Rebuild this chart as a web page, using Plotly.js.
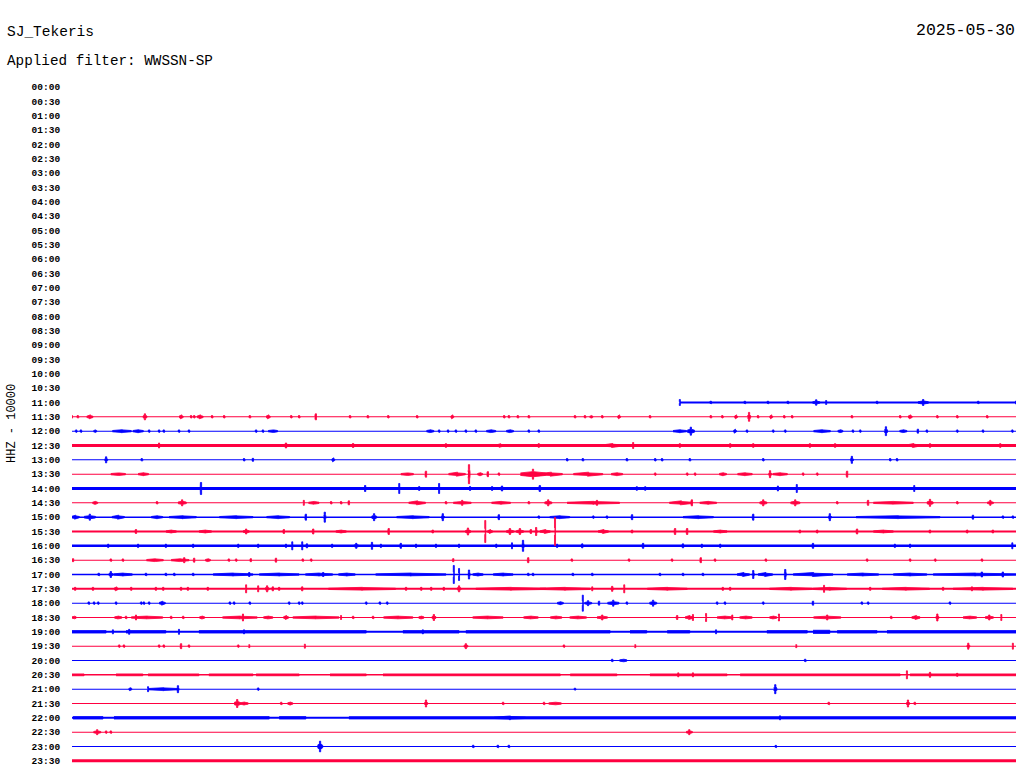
<!DOCTYPE html>
<html><head><meta charset="utf-8">
<script src="https://cdn.plot.ly/plotly-3.0.1.min.js"></script>
<style>html,body{margin:0;padding:0;background:#fff;} #chart{width:1024px;height:780px;}</style>
</head><body><div id="chart"></div>
<script>
const rowLabels = ['00:00','00:30','01:00','01:30','02:00','02:30','03:00','03:30','04:00','04:30','05:00','05:30',
  '06:00','06:30','07:00','07:30','08:00','08:30','09:00','09:30','10:00','10:30','11:00','11:30',
  '12:00','12:30','13:00','13:30','14:00','14:30','15:00','15:30','16:00','16:30','17:00','17:30',
  '18:00','18:30','19:00','19:30','20:00','20:30','21:00','21:30','22:00','22:30','23:00','23:30'];
const stationName = 'SJ_Tekeris';
const dayLabel = '2025-05-30';
const filterLabel = 'Applied filter: WWSSN-SP';
const channelLabel = 'HHZ - 10000';
const countsPerRow = 10000;
const secondsPerRow = 1800;

// rows that hold data
const dataRows = ['11:00','11:30','12:00','12:30','13:00','13:30','14:00','14:30','15:00','15:30','16:00','16:30',
  '17:00','17:30','18:00','18:30','19:00','19:30','20:00','20:30','21:00','21:30','22:00','22:30','23:00','23:30'];
const rowStartSec = [1159,0,0,0,0,0,0,0,0,0,0,0,0,0,0,0,0,0,0,0,0,0,0,0,0,0];
const rowEndSec = [1800,1800,1800,1800,1800,1800,1800,1800,1800,1800,1800,1800,1800,1800,1800,1800,1800,1800,1800,1800,1800,1800,1800,1800,1800,1800];
// background noise half-amplitude (counts)
const rowNoise = [700,350,350,1000,350,350,1000,350,500,700,875,350,450,700,350,350,700,350,350,500,350,350,700,350,350,1050];

// events: [second in row, half-amplitude counts, half-duration seconds]
const ev1100 = [[1159,2100,1],[1218,900,2],[1283,900,2],[1327,900,2],[1365,900,2],[1419,1900,7],[1438,1400,1],[1535,900,2],[1623,2100,10],[1728,900,2],[1800,1000,1]];
const ev1130 = [[0,900,1],[11,900,2],[34,1400,6],[139,2100,4],[208,1400,4],[227,900,2],[233,900,2],[244,1400,6],[267,900,2],[290,900,2],[339,900,2],[374,1400,4],[418,900,2],[433,900,2],[465,2100,2],[530,900,2],[564,900,2],[603,900,2],[658,900,2],[725,1400,3],[824,900,2],[833,900,2],[850,900,2],[871,900,2],[959,900,2],[978,900,2],[990,900,3],[1011,900,2],[1043,1400,3],[1102,900,2],[1218,900,2],[1240,900,2],[1266,1400,3],[1291,3100,3],[1308,900,2],[1333,1400,3],[1358,900,2],[1373,900,2],[1487,900,2],[1579,900,2],[1598,1400,4],[1650,900,2],[1688,900,2],[1745,900,2]];
const ev1200 = [[8,900,2],[17,900,2],[44,900,3],[95,1050,18],[126,1050,10],[147,900,2],[166,900,2],[175,900,2],[204,900,2],[223,900,2],[351,900,2],[364,900,2],[383,900,9],[683,1000,7],[700,900,2],[717,900,2],[732,900,2],[751,900,2],[770,900,2],[799,1000,9],[835,1000,7],[871,900,2],[890,900,2],[1159,1050,13],[1180,2800,7],[1264,1400,3],[1287,900,2],[1337,900,2],[1360,900,2],[1430,1050,16],[1465,1000,5],[1489,900,2],[1503,900,2],[1552,3100,3],[1585,1000,7],[1613,1400,2],[1630,900,2],[1688,900,2],[1737,900,2],[1793,900,2]];
const ev1230 = [[166,1750,1],[408,1750,6],[536,1400,2],[713,1300,2],[816,1300,6],[890,1300,2],[1030,1400,18],[1070,2100,1],[1159,1300,2],[1255,1300,2],[1299,1300,2],[1407,1300,2],[1455,1300,2],[1604,1400,12],[1636,1300,2],[1770,1300,2]];
const ev1300 = [[65,2100,3],[133,900,2],[328,900,2],[345,1050,2],[498,1400,3],[944,900,2],[974,900,2],[1058,900,2],[1112,900,2],[1125,900,2],[1178,900,2],[1318,900,2],[1487,2450,3],[1560,900,2],[1573,900,2]];
const ev1330 = [[88,900,14],[136,1050,10],[639,900,12],[675,2100,2],[734,1400,16],[757,6650,2],[778,1050,5],[793,1750,2],[814,900,2],[879,3500,24],[913,1400,22],[984,1400,28],[1039,1050,11],[1112,900,2],[1173,900,2],[1188,900,2],[1241,1050,7],[1283,1050,14],[1331,2450,3],[1350,1050,14],[1394,900,2],[1421,900,2],[1478,2100,2]];
const ev1400 = [[246,4200,1.5],[559,2100,3],[624,3500,1],[662,1400,1],[700,3500,1],[759,1400,1],[801,1400,1],[820,1750,2],[892,2100,5],[1077,1300,1],[1093,1300,1],[1346,1750,1],[1382,2800,1],[1606,2100,1]];
const ev1430 = [[44,1050,5],[162,900,2],[210,2100,8],[442,1750,1],[461,1000,10],[494,900,2],[513,900,2],[528,1400,2],[658,1400,16],[713,900,2],[744,1750,17],[818,1050,18],[871,900,2],[908,2100,7],[994,1050,50],[1001,1750,2],[1161,1400,22],[1182,2100,2],[1213,1050,16],[1318,2100,7],[1379,2100,9],[1459,900,2],[1518,1750,2],[1566,1000,38],[1636,2450,6],[1688,900,2],[1751,1750,6]];
const ev1500 = [[6,1400,8],[34,2100,11],[88,1400,12],[162,1050,11],[211,1050,26],[313,1050,32],[393,1050,22],[446,2100,2],[482,3500,2],[576,2450,5],[650,1050,31],[707,2450,3],[814,1750,2],[890,900,2],[930,1050,19],[994,900,2],[1020,900,2],[1068,1750,2],[1194,1050,29],[1299,2100,2],[1445,2450,3],[1575,1050,80],[1718,1400,2],[1775,900,2],[1794,900,2]];
const ev1530 = [[122,1400,2],[189,1050,10],[254,1050,12],[332,1750,6],[404,1400,2],[460,1750,2],[513,1050,10],[604,2100,2],[688,1050,2],[755,2450,5],[788,7700,1],[797,1400,5],[835,2100,7],[854,2100,7],[875,1400,2],[885,2800,2],[902,1400,10],[921,9800,1],[1013,1400,10],[1068,1050,2],[1150,2100,2],[1173,2100,2],[1236,1050,13],[1388,1050,2],[1421,1050,2],[1497,1750,2],[1547,1050,19],[1636,1050,2],[1707,1050,2],[1756,1050,2]];
const ev1600 = [[69,1200,1],[126,1200,1],[179,1200,1],[231,1200,1],[317,1200,1],[355,1200,1],[408,1200,1],[420,2800,1],[439,2800,1],[448,1400,2],[496,1200,1],[542,1750,5],[572,2450,2],[589,1200,1],[627,1750,2],[656,1200,1],[694,1200,1],[738,1200,1],[809,1200,1],[839,2100,1],[860,3850,2],[925,1200,1],[973,1400,2],[1089,1750,2],[1165,1400,2],[1201,1200,1],[1236,1200,1],[1413,1750,2],[1569,1200,1],[1598,1200,1],[1793,2100,1]];
const ev1630 = [[2,1050,2],[74,900,2],[97,900,2],[158,1000,16],[206,1000,17],[214,1750,3],[233,1400,2],[259,1000,5],[299,900,2],[313,900,2],[341,1050,2],[389,1400,2],[440,900,2],[456,900,2],[727,1050,2],[870,1750,2],[953,900,2],[1062,900,2],[1144,900,2],[1199,1750,2],[1226,900,2],[1323,900,2],[1516,900,2],[1598,900,2],[1646,900,2],[1735,900,2]];
const ev1700 = [[51,900,2],[74,2100,4],[97,1050,18],[141,900,2],[179,900,2],[195,900,2],[231,900,2],[307,1050,38],[338,1400,2],[395,1050,38],[471,1050,26],[479,1400,2],[524,1050,16],[646,1050,67],[728,6300,1],[738,4200,1],[757,3150,2],[774,1050,10],[822,1050,19],[870,900,2],[879,900,2],[955,900,2],[992,900,2],[1121,900,2],[1165,900,2],[1203,900,2],[1280,1400,12],[1299,2800,2],[1322,1400,14],[1360,3500,2],[1413,1400,38],[1508,1050,30],[1598,1050,32],[1722,1050,80],[1735,1750,2],[1775,1750,2]];
const ev1730 = [[6,1050,2],[40,1050,2],[84,1400,4],[113,1050,2],[160,1050,2],[174,1050,2],[208,1050,2],[221,1050,2],[259,1050,2],[332,2800,1],[355,2100,1],[372,2100,4],[383,1400,2],[395,1050,2],[439,1400,2],[553,1050,64],[637,1050,2],[666,1050,2],[685,1050,2],[709,1050,2],[738,2100,4],[837,1050,67],[940,1050,48],[992,1400,1],[1030,1750,3],[1053,2800,1],[1135,1050,38],[1241,1050,2],[1255,1050,2],[1371,1050,41],[1434,2450,1],[1445,1050,32],[1522,1050,2],[1590,1050,45],[1661,1050,2],[1716,1400,1],[1737,1050,57]];
const ev1800 = [[32,900,2],[42,900,2],[50,900,2],[84,900,2],[132,900,2],[137,900,2],[147,900,2],[172,1400,6],[301,900,2],[309,900,2],[339,900,2],[414,900,2],[433,900,2],[439,900,2],[561,900,2],[587,900,2],[601,900,2],[931,1050,6],[974,5600,1],[984,1750,7],[1005,1400,2],[1032,2100,11],[1058,900,2],[1108,2100,7],[1230,900,2],[1245,900,2],[1318,900,2],[1413,1400,2],[1506,900,2],[1518,900,2],[1674,900,2]];
const ev1830 = [[4,900,4],[88,1000,7],[103,900,2],[122,1750,1],[143,1000,30],[189,900,2],[212,900,2],[248,1000,5],[320,1000,33],[326,2450,1],[374,1000,9],[408,1400,5],[465,1000,44],[513,1400,1],[536,900,2],[574,900,2],[622,1000,28],[666,1000,5],[690,2100,4],[793,1000,29],[875,1000,14],[923,1000,11],[965,1000,16],[1011,1750,10],[1154,1400,2],[1177,1400,8],[1184,2100,1],[1209,2800,1],[1245,1000,15],[1259,1750,1],[1285,1000,12],[1337,1000,7],[1348,2450,1],[1440,1750,26],[1562,900,2],[1609,1400,8],[1650,2450,3],[1712,1000,13],[1749,1750,8],[1772,2100,1]];
const ev1900 = [[78,1400,1],[109,1750,1],[204,1750,1],[328,1400,1],[669,1400,1],[1228,1400,1]];
const ev1930 = [[90,900,2],[99,900,2],[166,900,2],[175,900,2],[208,1750,2],[223,900,2],[317,900,2],[338,1050,1],[444,1400,1],[751,1750,4],[938,900,2],[1074,1050,1],[1381,1050,1],[1709,2100,3],[1794,2100,1]];
const ev2000 = [[1030,900,2],[1051,900,7],[1398,900,2]];
const ev2030 = [[1156,1400,1],[1184,1400,1],[1592,2800,1],[1636,1750,3],[1688,1050,2]];
const ev2100 = [[111,1050,3],[174,1050,29],[145,1750,1],[202,2450,2],[355,900,2],[959,700,2],[1341,3150,3]];
const ev2130 = [[315,2800,6],[328,1050,8],[399,900,2],[416,1050,5],[675,2450,3],[822,900,2],[900,900,2],[921,900,12],[1443,900,2],[1594,2450,3],[1607,900,2]];
const ev2200 = [[835,1300,30],[1350,1400,1]];
const ev2230 = [[48,1750,7],[65,900,2],[74,900,2],[1177,1750,6]];
const ev2300 = [[473,3700,5],[765,900,2],[812,900,2],[833,900,2],[1342,800,2]];
const ev2330 = [];
const rowEvents = [ev1100,ev1130,ev1200,ev1230,ev1300,ev1330,ev1400,ev1430,ev1500,ev1530,ev1600,ev1630,
  ev1700,ev1730,ev1800,ev1830,ev1900,ev1930,ev2000,ev2030,ev2100,ev2130,ev2200,ev2230,ev2300,ev2330];

// busy stretches: [start sec, end sec, half-amplitude counts]
const seg1900 = [[0,65,850],[103,179,850],[242,561,850],[631,738,850],[751,1026,850],[1064,1096,850],[1135,1178,850],[1325,1402,850],[1413,1445,1100],[1459,1535,850],[1554,1800,850]];
const seg2030 = [[0,23,650],[84,135,650],[145,242,650],[261,345,650],[351,433,650],[492,561,650],[593,931,650],[950,1039,650],[1102,1249,650],[1274,1579,650],[1598,1800,650]];
const seg2200 = [[2,59,850],[80,376,850],[395,446,850],[528,1800,800]];
const segRows = ['19:00','20:30','22:00'];
const segLists = [seg1900, seg2030, seg2200];

const colorEven = '#0000ff';
const colorOdd = '#ff0040';

const W = 1024, H = 780;
const M = {l:72, r:8, t:80, b:12, pad:0};
const pxPerRow = (H - M.t - M.b) / rowLabels.length;
const countsPerPx = countsPerRow / pxPerRow;

function rowIndex(lbl){ return rowLabels.indexOf(lbl); }
function rowColor(i){ return i % 2 === 0 ? colorEven : colorOdd; }

const traces = [];
// baselines
dataRows.forEach((lbl, k) => {
  const i = rowIndex(lbl);
  traces.push({
    type:'scatter', mode:'lines', x:[rowStartSec[k], rowEndSec[k]], y:[i, i],
    line:{color:rowColor(i), width:Math.max(1, 2*rowNoise[k]/countsPerPx)},
    hoverinfo:'skip', showlegend:false
  });
});
// busy stretches
const segPoly = {};
segRows.forEach((lbl, k) => {
  const i = rowIndex(lbl); const c = rowColor(i);
  if (!segPoly[c]) segPoly[c] = {x:[], y:[]};
  segLists[k].forEach(s => {
    const a = s[2] / countsPerRow;
    segPoly[c].x.push(s[0], s[1], s[1], s[0], null);
    segPoly[c].y.push(i - a, i - a, i + a, i + a, null);
  });
});
// events: coda block with a central peak
const evPoly = {};
dataRows.forEach((lbl, k) => {
  const i = rowIndex(lbl); const c = rowColor(i);
  if (!evPoly[c]) evPoly[c] = {x:[], y:[]};
  rowEvents[k].forEach(e => {
    const t = e[0], a = e[1] / countsPerRow, d = e[2];
    const w = Math.min(d, 1.2);
    const r = Math.min(a, Math.max(a * 0.5, 900 / countsPerRow));
    const r0 = r * 0.5;
    evPoly[c].x.push(t - d, t - w, t - w, t + w, t + w, t + d, t + d, t + w, t + w, t - w, t - w, t - d, null);
    evPoly[c].y.push(i - r0, i - r, i - a, i - a, i - r, i - r0, i + r0, i + r, i + a, i + a, i + r, i + r0, null);
  });
});
[segPoly, evPoly].forEach(group => {
  Object.keys(group).forEach(c => {
    traces.push({
      type:'scatter', mode:'lines', x:group[c].x, y:group[c].y, fill:'toself', fillcolor:c,
      line:{color:c, width:0.8}, connectgaps:false, hoverinfo:'skip', showlegend:false
    });
  });
});

const plotW = W - M.l - M.r, plotH = H - M.t - M.b;
const mono = 'Liberation Mono, DejaVu Sans Mono, monospace';
const layout = {
  width:W, height:H, margin:M, paper_bgcolor:'#ffffff', plot_bgcolor:'#ffffff',
  showlegend:false,
  title:{text:stationName, xref:'container', yref:'container', x:7/W, xanchor:'left', y:1-31/H, yanchor:'middle',
    font:{family:mono, size:14.5, color:'#000'}},
  xaxis:{range:[0, secondsPerRow], visible:false, showgrid:false, zeroline:false, fixedrange:true},
  yaxis:{range:[rowLabels.length-0.5, -0.5], tickmode:'array', tickvals:rowLabels.map((_, i) => i), ticktext:rowLabels,
    ticks:'outside', ticklen:9, tickcolor:'rgba(0,0,0,0)', showgrid:false, zeroline:false, showline:false,
    tickfont:{family:mono, size:9.5, color:'#000', weight:'bold'}, fixedrange:true},
  annotations:[
    {text:dayLabel, xref:'paper', yref:'paper', x:1, xanchor:'right', xshift:1, y:(H - M.b - 31)/plotH, yanchor:'middle',
      showarrow:false, font:{family:mono, size:16.5, color:'#000'}},
    {text:filterLabel, xref:'paper', yref:'paper', x:(7 - M.l)/plotW, xanchor:'left', xshift:-2, y:(H - M.b - 61)/plotH, yanchor:'middle',
      showarrow:false, font:{family:mono, size:14.3, color:'#000'}},
    {text:channelLabel, xref:'paper', yref:'paper', x:(12 - M.l)/plotW, xanchor:'center', y:0.5, yanchor:'middle',
      textangle:-90, showarrow:false, font:{family:mono, size:12, color:'#000'}}
  ]
};
Plotly.newPlot('chart', traces, layout, {staticPlot:true, displayModeBar:false});
</script>
</body></html>
